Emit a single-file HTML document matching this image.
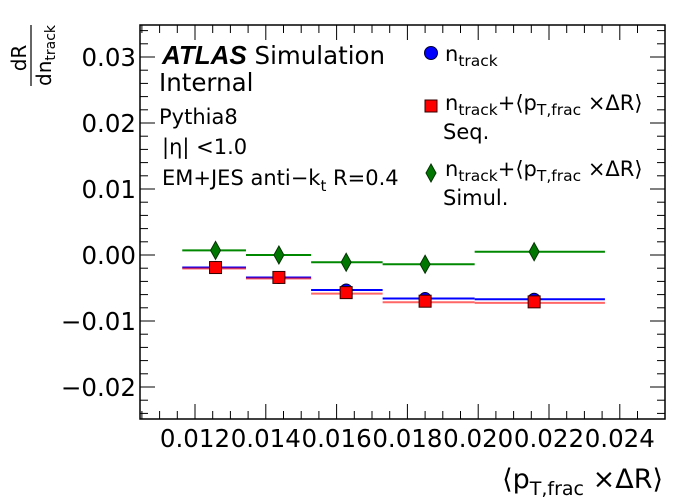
<!DOCTYPE html>
<html><head><meta charset="utf-8"><style>
body{margin:0;background:#fff}
svg{display:block;font-family:"DejaVu Sans","Liberation Sans",sans-serif}
</style></head><body>
<svg id="c" width="700" height="500" viewBox="0 0 700 500">
<rect x="140" y="25" width="525" height="394" fill="none" stroke="#000" stroke-width="1.5"/>
<g id="ticks"></g>
<g id="marks"></g>
<g>
<text transform="translate(26,58) rotate(-90)" font-size="20" text-anchor="middle">dR</text>
<line x1="31" y1="25" x2="31" y2="86" stroke="#000" stroke-width="1.2"/>
<text transform="translate(51,86) rotate(-90)" font-size="20">dn<tspan font-size="14" dy="4">track</tspan></text>
</g>
<text x="663" y="488" font-size="27" text-anchor="end">⟨p<tspan font-size="19" dy="7">T,frac</tspan><tspan dy="-7"> ×ΔR⟩</tspan></text>
<g font-size="24.5">
<text x="162" y="64"><tspan font-weight="bold" font-style="italic" font-family="Liberation Sans,sans-serif" font-size="26">ATLAS</tspan> Simulation</text>
<text x="159" y="91">Internal</text>
<text x="159" y="124" font-size="21">Pythia8</text>
<text x="162" y="154" font-size="21">|η| &lt;1.0</text>
<text x="162" y="185" font-size="21">EM+JES anti−k<tspan font-size="15" dy="6">t</tspan><tspan dy="-6"> R=0.4</tspan></text>
</g>
<g font-size="21">
<g>
<circle cx="431" cy="53" r="6.5" fill="#00f" stroke="#003"/>
<text x="445" y="61">n<tspan font-size="15.5" dy="5">track</tspan></text></g>
<g>
<rect x="425" y="100" width="12" height="12" fill="red" stroke="#300"/>
<text x="445" y="110">n<tspan font-size="15.5" dy="5">track</tspan><tspan dy="-5">+⟨p</tspan><tspan font-size="15.5" dy="5">T,frac</tspan><tspan dy="-5"> ×ΔR⟩</tspan></text>
<text x="443" y="139">Seq.</text></g>
<g>
<polygon points="431,164 436,173 431,182 426,173" fill="#070" stroke="#030"/>
<text x="445" y="176">n<tspan font-size="15.5" dy="5">track</tspan><tspan dy="-5">+⟨p</tspan><tspan font-size="15.5" dy="5">T,frac</tspan><tspan dy="-5"> ×ΔR⟩</tspan></text>
<text x="443" y="205">Simul.</text></g>
</g>
</svg>
<script>
const binEdges=[0.01164,0.01344,0.01528,0.0173,0.0199,0.02358];
const binCenters=[0.01258,0.01437,0.01627,0.0185,0.02158];
const ntrack=[-0.0019,-0.0034,-0.0053,-0.0066,-0.0067];
const seq=[-0.0019,-0.0034,-0.0057,-0.0070,-0.0071];
const simul=[0.0007,0.0000,-0.0011,-0.0014,0.0005];
const xTicks=[0.012,0.014,0.016,0.018,0.020,0.022,0.024];
const xTickLabels=["0.012","0.014","0.016","0.018","0.020","0.022","0.024"];
const yTicks=[0.03,0.02,0.01,0,-0.01,-0.02];
const yTickLabels=["0.03","0.02","0.01","0.00","−0.01","−0.02"];
const NS='http://www.w3.org/2000/svg';
const X=v=>195+(v-0.012)*35400;
const Y=v=>255-v*6600;
function mk(t,a,p){const e=document.createElementNS(NS,t);for(const k in a)e.setAttribute(k,a[k]);p.appendChild(e);return e;}
const T=document.getElementById('ticks');
for(let i=-5;i<=28;i++){const v=0.0105+i*0.0005;const x=X(v);if(x<141||x>664)continue;
 const maj=Math.abs((v/0.002)-Math.round(v/0.002))<1e-6;const L=maj?15:8;
 mk('line',{x1:x,y1:419,x2:x,y2:419-L,stroke:'#000'},T);mk('line',{x1:x,y1:25,x2:x,y2:25+L,stroke:'#000'},T);}
for(let i=-15;i<=20;i++){const v=i*0.002;const y=Y(v);if(y<26||y>418)continue;
 const maj=i%5===0;const L=maj?15:8;
 mk('line',{x1:140,y1:y,x2:140+L,y2:y,stroke:'#000'},T);mk('line',{x1:665,y1:y,x2:665-L,y2:y,stroke:'#000'},T);}
xTicks.forEach((v,i)=>{const t=mk('text',{x:X(v),y:447,'font-size':24.5,'text-anchor':'middle'},T);t.textContent=xTickLabels[i];

});
yTicks.forEach((v,i)=>{const t=mk('text',{x:136,y:Y(v)+9,'font-size':24.5,'text-anchor':'end'},T);t.textContent=yTickLabels[i];

});
const M=document.getElementById('marks');
function hlines(vals,col,dy,op){vals.forEach((v,i)=>{const l=mk('line',{x1:X(binEdges[i]),x2:X(binEdges[i+1]),y1:Y(v)+dy,y2:Y(v)+dy,stroke:col,'stroke-width':2,'stroke-opacity':op},M);

});}
hlines(simul,'#080',0,1);
hlines(ntrack,'#00f',0,1);
hlines(seq,'#f00',1,0.6);
ntrack.forEach((v,i)=>{const c=mk('circle',{cx:X(binCenters[i]),cy:Y(v),r:6,fill:'#00f',stroke:'#003'},M);

});
seq.forEach((v,i)=>{const x=X(binCenters[i]),y=Y(v);const r=mk('rect',{x:x-6,y:y-6,width:12,height:12,fill:'red',stroke:'#300'},M);

});
simul.forEach((v,i)=>{const x=X(binCenters[i]),y=Y(v);const p=mk('polygon',{points:`${x},${y-9} ${x+5},${y} ${x},${y+9} ${x-5},${y}`,fill:'#070',stroke:'#030'},M);

});
</script>
</body></html>
